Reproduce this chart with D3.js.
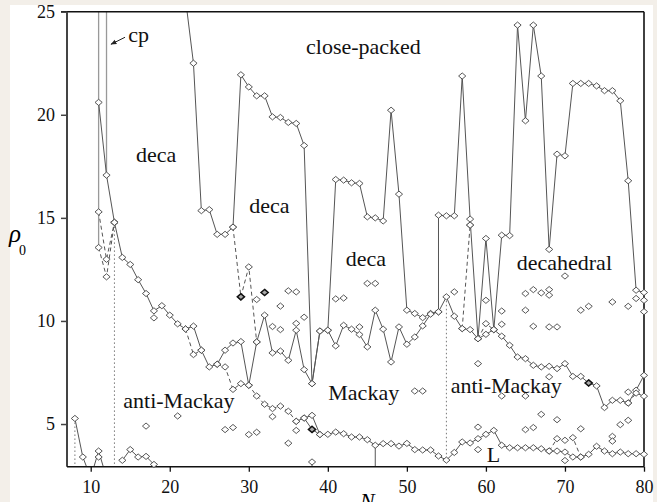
<!DOCTYPE html>
<html>
<head>
<meta charset="utf-8">
<script src="https://cdn.jsdelivr.net/npm/d3@7/dist/d3.min.js"></script>
<style>
  body { margin: 0; background: #f3efe9; }
  svg { display: block; }
  .tick text { font-family: "Liberation Serif", "DejaVu Serif", serif; font-size: 18px; fill: #111; }
  .lbl { font-family: "Liberation Serif", "DejaVu Serif", serif; font-size: 22px; fill: #111; }
</style>
</head>
<body>
<svg id="chart" width="657" height="502"></svg>
<script>
// axis ticks
var xTicks = [10, 20, 30, 40, 50, 60, 70, 80];
var yTicks = [5, 10, 15, 20, 25];

// [N, rho0] pairs
// deca -> close-packed boundary
var cpLine = [[22,25.6],[23,22.5],[24,15.35],[25,15.4],[26,14.2],[27,14.2],[28,14.55],[29,21.94],[30,21.35],
  [31,20.92],[32,20.92],[33,19.9],[34,19.87],[35,19.63],[36,19.58],[37,18.51],[38,6.96],[39,9.51],[40,9.55],
  [41,16.86],[42,16.83],[43,16.7],[44,16.67],[45,15.05],[46,15.0],[47,14.85],[48,20.22],[49,16.15],[50,10.52],
  [51,10.36],[52,10.16],[53,10.36],[54,10.44],[54,15.13],[55,15.1],[56,15.1],[57,21.88],[58,14.94],[59,9.14],
  [60,14.0],[61,9.58],[62,14.16],[63,14.14],[64,24.35],[65,19.71],[66,24.35],[67,21.88],[68,13.47],[69,18.09],
  [70,18.01],[71,21.52],[72,21.52],[73,21.52],[74,21.4],[75,21.17],[76,21.17],[77,20.68],[78,16.8],[79,11.49],[80,11.38]];

// icosahedral -> decahedral boundary
var decaLine = [[11,20.6],[12,17.07],[13,14.78],[14,13.08],[15,12.74],[16,12.0],[17,11.33],[18,10.49],[19,10.74],
  [20,10.28],[21,9.86],[22,9.61],[23,9.75],[24,8.58],[25,7.77],[26,7.9],[27,8.58],[28,8.93],[29,9.0],[30,6.88],
  [31,8.98],[32,10.28],[33,8.45],[34,8.54],[35,8.09],[36,9.55],[37,7.64],[38,6.96],[39,9.51],[40,9.55],[41,8.79],
  [42,9.79],[43,9.6],[44,9.34],[45,8.74],[46,10.52],[47,9.6],[48,8.01],[49,9.71],[50,8.87],[51,9.22],[52,9.76],
  [53,10.33],[54,10.44],[55,11.17],[56,10.23],[57,9.63],[58,9.58],[59,9.14],[60,9.35],[61,9.58],[62,9.26],
  [63,8.82],[64,8.25],[65,8.17],[66,7.85],[67,7.77],[68,7.8],[69,7.69],[70,7.93],[71,7.31],[72,7.31],[73,6.99],
  [74,6.85],[75,5.8],[76,6.15],[77,6.15],[78,6.02],[79,6.64],[80,7.36]];

// Mackay / anti-Mackay boundary
var mackayDashed = [[26,7.9],[27,7.77],[28,6.68],[29,6.96],[30,6.88],[31,6.36],[32,5.96],[33,5.75],[34,5.87],[35,5.62],[36,5.13]];
var mackayLine = [[36,5.13],[37,5.29],[38,5.42],[39,4.49],[40,4.5],[41,4.61],[42,4.53],[43,4.37],[44,4.37],[45,4.24],
  [46,3.97],[47,4.05],[48,4.05],[49,3.93],[50,4.06],[51,3.76],[52,3.74],[53,3.74],[54,3.45],[55,3.25],[56,3.62],
  [57,4.13],[58,4.08],[59,4.29],[60,4.5],[61,4.69],[62,3.97],[63,3.85],[64,3.85],[65,3.85],[66,3.85],[67,3.8],
  [68,3.69],[69,3.69],[70,3.64],[71,3.4],[72,3.4],[73,3.53],[74,3.92],[75,3.69],[76,3.56],[77,3.64],[78,3.56],[79,3.56],[80,3.53]];
var mackayBranch = [[37,5.29],[38,4.74],[39,4.49]];

// small clusters near the bottom
var smallA = [[8,5.27],[9,3.4],[10,2.4],[11,3.69],[12,2.4]];
var smallB = [[14,3.24],[15,3.76],[16,3.4],[17,3.43],[18,3.04],[19,2.4]];

// dashed connections
var dashedSets = [
  [[11,15.29],[12,12.99],[13,14.78]],
  [[11,13.56],[12,12.14],[13,14.78]],
  [[22,9.61],[23,8.37],[24,8.58]],
  [[28,14.55],[29,11.17],[30,12.62],[31,8.98]],
  [[57,9.63],[58,14.65]],
  [[59,9.14],[60,9.87],[61,9.58]],
  [[68,3.69],[69,4.29],[70,4.21],[71,4.34],[72,3.4]],
  [[78,6.02],[79,6.5],[80,6.35]]
];

// vertical segments [N, rhoFrom, rhoTo]
var dottedVerts = [[8,5.27,2.93],[13,14.78,2.93],[55,11.17,3.25]];
var solidVerts = [[46,3.97,2.93],[38,3.16,2.93]];
var greyVerts = [[11,13.56,25],[12,17.07,25]];

// isolated diamonds
var singles = [[11,3.4],[17,4.9],[18,10.15],[21,5.39],[27,4.73],[28,4.83],[30,4.49],[31,11.04],[31,4.6],
  [33,9.73],[33,5.36],[34,10.72],[34,9.58],[35,11.46],[35,4.07],[36,11.41],[36,9.88],[36,4.69],[37,10.18],[38,3.16],
  [41,11.07],[42,11.11],[44,9.71],[45,11.82],[46,11.82],[51,6.6],[52,6.6],[56,11.41],[58,14.65],[59,7.93],[59,4.85],
  [59,3.76],[60,11.0],[62,10.48],[62,9.84],[62,6.36],[65,11.33],[65,10.52],[65,6.36],[65,4.73],[66,11.52],[66,9.74],
  [66,4.83],[67,11.36],[67,5.47],[68,11.52],[68,11.25],[68,9.71],[68,7.29],[69,9.71],[69,5.21],[70,12.18],[70,3.23],
  [72,10.52],[72,4.77],[73,10.71],[76,10.92],[76,4.4],[76,4.17],[77,4.97],[78,10.71],[78,5.18],[78,6.55],[79,11.09],
  [80,11.0],[80,10.45]];
var darkPoints = [[29,11.17],[32,11.38],[38,4.74],[73,6.99]];

// region labels [text, N, rho]
var regionLabels = [["close-packed",37.24,22.93],["deca",15.73,17.73],["deca",30.06,15.22],["deca",42.26,12.67],
  ["decahedral",63.9,12.45],["anti-Mackay",14.12,5.77],["Mackay",40.06,6.17],["anti-Mackay",55.54,6.52],
  ["L",60.1,3.18],["cp",14.76,23.55]];

var svg = d3.select("#chart");
var plotL = 67, plotR = 644, plotT = 11.7, plotB = 466.7;

svg.append("rect").attr("x", 10).attr("y", 5).attr("width", 643).attr("height", 497).attr("fill", "#fff");

var x = d3.scaleLinear().domain([7, 80]).range([plotL, plotR]);
var y = d3.scaleLinear().domain([2.93, 25]).range([plotB, plotT]);

svg.append("defs").append("clipPath").attr("id", "clip")
  .append("rect").attr("x", plotL).attr("y", plotT).attr("width", plotR - plotL).attr("height", plotB - plotT);

var line = d3.line()
  .x(function(d) { return x(d[0]); })
  .y(function(d) { return y(d[1]); });

var g = svg.append("g").attr("clip-path", "url(#clip)");

function drawLine(data, dash, color) {
  g.append("path").datum(data)
    .attr("d", line)
    .attr("fill", "none")
    .attr("stroke", color || "#555")
    .attr("stroke-width", 1)
    .attr("stroke-dasharray", dash || null);
}

greyVerts.forEach(function(v) {
  g.append("line").attr("x1", x(v[0])).attr("x2", x(v[0]))
    .attr("y1", y(v[1])).attr("y2", y(v[2]))
    .attr("stroke", "#999").attr("stroke-width", 1.3);
});
dottedVerts.forEach(function(v) {
  g.append("line").attr("x1", x(v[0])).attr("x2", x(v[0]))
    .attr("y1", y(v[1])).attr("y2", y(v[2]))
    .attr("stroke", "#777").attr("stroke-width", 1).attr("stroke-dasharray", "1.5,2.5");
});
solidVerts.forEach(function(v) {
  g.append("line").attr("x1", x(v[0])).attr("x2", x(v[0]))
    .attr("y1", y(v[1])).attr("y2", y(v[2]))
    .attr("stroke", "#555").attr("stroke-width", 1);
});

drawLine(cpLine);
drawLine(decaLine);
drawLine(mackayDashed, "4,3");
drawLine(mackayLine);
drawLine(mackayBranch);
drawLine(smallA);
drawLine(smallB);
dashedSets.forEach(function(s) { drawLine(s, "4,3"); });

// frame and axes
svg.append("line").attr("x1", plotL - 6).attr("x2", plotR).attr("y1", plotT).attr("y2", plotT)
  .attr("stroke", "#111").attr("stroke-width", 1.6);
svg.append("line").attr("x1", plotR).attr("x2", plotR).attr("y1", plotT).attr("y2", plotB)
  .attr("stroke", "#111").attr("stroke-width", 1.6);

var yAxis = svg.append("g").attr("transform", "translate(" + plotL + ",0)")
  .call(d3.axisLeft(y).tickValues(yTicks).tickSize(6).tickPadding(6));
yAxis.select(".domain").attr("stroke", "#444").attr("stroke-width", 2).attr("d", "M0," + plotT + "V" + plotB);
yAxis.selectAll(".tick line").attr("stroke", "#444").attr("stroke-width", 1.5);

var xAxis = svg.append("g").attr("transform", "translate(0," + plotB + ")")
  .call(d3.axisBottom(x).tickValues(xTicks).tickSize(5).tickPadding(9));
xAxis.select(".domain").attr("stroke", "#111").attr("stroke-width", 1.6).attr("d", "M" + plotL + ",0H" + plotR);
xAxis.selectAll(".tick line").attr("stroke", "#111").attr("stroke-width", 1.3);

// diamonds
var allPts = [].concat(cpLine, decaLine, mackayDashed, mackayLine, mackayBranch, smallA, smallB, singles);
dashedSets.forEach(function(s) { allPts = allPts.concat(s); });
allPts = allPts.filter(function(d) { return d[1] >= 2.93 && d[1] <= 25; });

var diamond = "M0,-3.1L3.6,0L0,3.1L-3.6,0Z";
svg.append("g").selectAll("path").data(allPts).join("path")
  .attr("d", diamond)
  .attr("transform", function(d) { return "translate(" + x(d[0]) + "," + y(d[1]) + ")"; })
  .attr("fill", "#fff").attr("stroke", "#444").attr("stroke-width", 0.9);

svg.append("g").selectAll("path").data(darkPoints).join("path")
  .attr("d", diamond)
  .attr("transform", function(d) { return "translate(" + x(d[0]) + "," + y(d[1]) + ")"; })
  .attr("fill", "#aaa").attr("stroke", "#111").attr("stroke-width", 1.5);

// labels
svg.append("g").selectAll("text").data(regionLabels).join("text")
  .attr("class", "lbl")
  .attr("x", function(d) { return x(d[1]); })
  .attr("y", function(d) { return y(d[2]); })
  .text(function(d) { return d[0]; });

// cp arrow
svg.append("defs").append("marker").attr("id", "arr")
  .attr("viewBox", "0 0 10 10").attr("refX", 9).attr("refY", 5)
  .attr("markerWidth", 6).attr("markerHeight", 6).attr("orient", "auto")
  .append("path").attr("d", "M0,1L10,5L0,9Z").attr("fill", "#222");
svg.append("line")
  .attr("x1", x(14.34)).attr("y1", y(23.76))
  .attr("x2", x(12.57)).attr("y2", y(23.42))
  .attr("stroke", "#222").attr("stroke-width", 1).attr("marker-end", "url(#arr)");

// axis titles
svg.append("text").attr("x", 9).attr("y", 242)
  .style("font-family", "Liberation Serif, serif").style("font-style", "italic").style("font-size", "25px")
  .text("ρ");
svg.append("text").attr("x", 19).attr("y", 255)
  .style("font-family", "Liberation Serif, serif").style("font-size", "14px")
  .text("0");
svg.append("text").attr("x", 360).attr("y", 508)
  .style("font-family", "Liberation Serif, serif").style("font-style", "italic").style("font-size", "22px")
  .text("N");
</script>
</body>
</html>
